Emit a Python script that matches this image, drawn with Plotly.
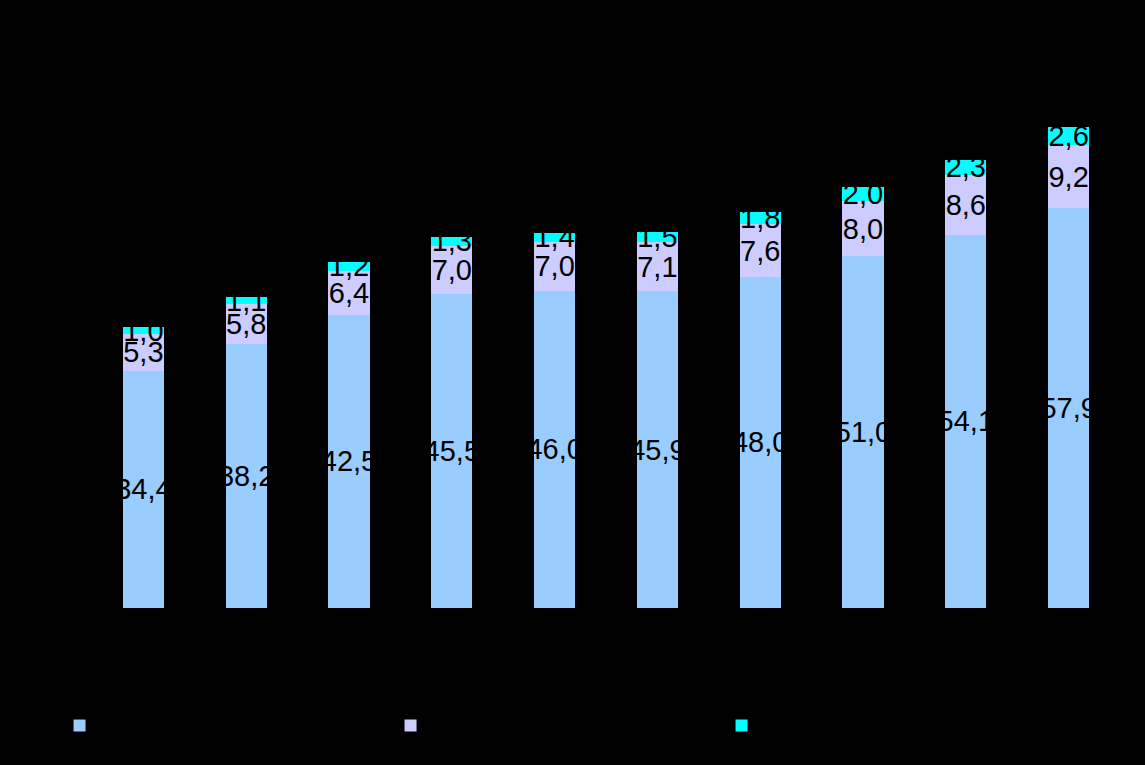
import plotly.graph_objects as go

categories = ["2010", "2011", "2012", "2013", "2014", "2015", "2016", "2017", "2018", "2019"]
series_names = ["Série 1", "Série 2", "Série 3"]
s1 = [34.4, 38.2, 42.5, 45.5, 46.0, 45.9, 48.0, 51.0, 54.1, 57.9]
s2 = [5.3, 5.8, 6.4, 7.0, 7.0, 7.1, 7.6, 8.0, 8.6, 9.2]
s3 = [1.0, 1.1, 1.2, 1.3, 1.4, 1.5, 1.8, 2.0, 2.3, 2.6]
colors = ["#99ccff", "#ccccff", "#00ffff"]

def fmt(v):
    return f"{v:.1f}".replace(".", ",")

fig = go.Figure()
for name, vals, col in zip(series_names, [s1, s2, s3], colors):
    fig.add_trace(go.Bar(
        x=categories, y=vals, name=name,
        marker=dict(color=col, line=dict(width=0)),
        text=[fmt(v) for v in vals],
        textposition="inside", insidetextanchor="middle", textangle=0,
        constraintext="none", cliponaxis=False,
        textfont=dict(family="Liberation Sans, Arial", size=29, color="black"),
    ))

fig.update_layout(
    barmode="stack", bargap=0.6,
    width=1145, height=765,
    paper_bgcolor="black", plot_bgcolor="black",
    margin=dict(l=92, r=25, t=56, b=157),
    font=dict(family="Liberation Sans, Arial", size=14, color="black"),
    xaxis=dict(showgrid=False, showline=False, ticks="", tickfont=dict(color="black")),
    yaxis=dict(range=[0, 80], showgrid=False, zeroline=False, showticklabels=False, ticks=""),
    legend=dict(orientation="h", x=0.052, xref="container", xanchor="left", y=0.051, yref="container",
                yanchor="middle", entrywidth=286, font=dict(color="black", size=14),
                traceorder="normal"),
    showlegend=True,
)
fig.write_html("out.html")
